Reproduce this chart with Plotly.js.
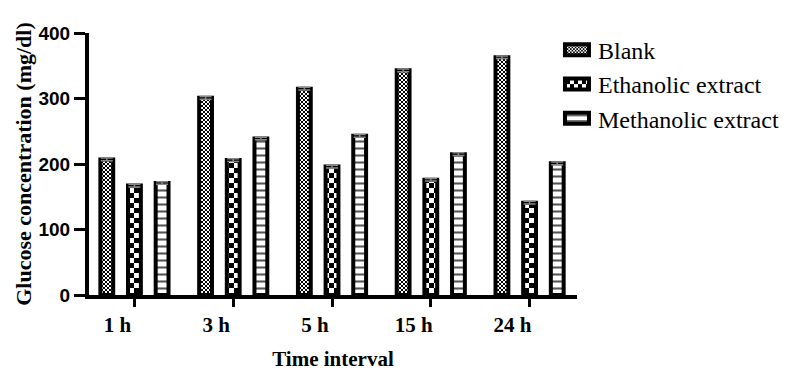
<!DOCTYPE html>
<html>
<head>
<meta charset="utf-8">
<script src="https://cdn.plot.ly/plotly-3.0.1.min.js"></script>
<style>html,body{margin:0;padding:0;background:#fff;}#chart{width:796px;height:374px;}</style>
</head>
<body>
<div id="chart"></div>
<script>
const categories = ["1 h", "3 h", "5 h", "15 h", "24 h"];
const blank = [207, 301, 315, 343, 363];
const ethanolic = [167, 206, 196, 176, 141];
const methanolic = [171, 239, 243, 215, 201];
const blankErr = [2, 2, 2, 2, 2];
const ethanolicErr = [2, 2, 2, 2, 2];
const methanolicErr = [2, 2, 2, 2, 2];
const yTicks = [0, 100, 200, 300, 400];

function mk(name, y, err, pattern) {
  return {
    type: 'bar', name: name, x: categories, y: y,
    error_y: {type: 'data', array: err, visible: true, color: '#888', thickness: 1.5, width: 6},
    marker: {color: '#fff', line: {color: '#000', width: 4}, pattern: pattern}
  };
}
const data = [
  mk('Blank', blank, blankErr, {shape: 'x', size: 3, solidity: 0.5, fgcolor: '#000', bgcolor: '#fff'}),
  mk('Ethanolic extract', ethanolic, ethanolicErr, {shape: '.', size: 9, solidity: 0.5, fgcolor: '#000', bgcolor: '#fff'}),
  mk('Methanolic extract', methanolic, methanolicErr, {shape: '-', size: 7, solidity: 0.3, fgcolor: '#555', bgcolor: '#fff'})
];
const layout = {
  width: 796, height: 374,
  margin: {l: 89, r: 213, t: 33, b: 79},
  paper_bgcolor: '#fff', plot_bgcolor: '#fff',
  barmode: 'group', bargap: 0.16, bargroupgap: 0.536,
  showlegend: true,
  legend: {x: 0.961, y: 1.02, xanchor: 'left', yanchor: 'top', tracegroupgap: 0, font: {family: 'Liberation Serif', size: 24, color: '#000'}, bgcolor: 'rgba(0,0,0,0)'},
  xaxis: {
    type: 'category', range: [-0.46, 4.48],
    showline: true, linecolor: '#000', linewidth: 4,
    ticks: 'outside', ticklen: 8, tickwidth: 3, tickcolor: '#000',
    ticklabelshift: -17,
    tickfont: {family: 'Liberation Serif', size: 21, color: '#000', weight: 'bold'},
    showgrid: false, zeroline: false,
    title: {text: '<b>Time interval</b>', standoff: 16, font: {family: 'Liberation Serif', size: 21, color: '#000'}}
  },
  yaxis: {
    range: [0, 400], tickvals: yTicks, ticktext: yTicks.map(String),
    showline: true, linecolor: '#000', linewidth: 4,
    ticks: 'outside', ticklen: 11, tickwidth: 3, tickcolor: '#000',
    tickfont: {family: 'Liberation Sans', size: 19, color: '#000', weight: 'bold'},
    showgrid: false, zeroline: false,
    title: {text: '<b>Glucose concentration (mg/dl)</b>', font: {family: 'Liberation Serif', size: 22, color: '#000'}}
  }
};

const SVGNS = 'http://www.w3.org/2000/svg';
function checker(pat, cell) {
  while (pat.firstChild) pat.removeChild(pat.firstChild);
  pat.setAttribute('width', 2 * cell);
  pat.setAttribute('height', 2 * cell);
  const rects = [[0, 0, 2 * cell, '#fff'], [0, 0, cell, '#000'], [cell, cell, cell, '#000']];
  rects.forEach(function (r) {
    const e = document.createElementNS(SVGNS, 'rect');
    e.setAttribute('x', r[0]); e.setAttribute('y', r[1]);
    e.setAttribute('width', r[2]); e.setAttribute('height', r[2]);
    e.setAttribute('fill', r[3]);
    pat.appendChild(e);
  });
}
function patternOf(el) {
  if (!el) return null;
  const f = el.getAttribute('style') || '';
  const m = (f.match(/url\(["']?#([^"')]+)/) || (el.getAttribute('fill') || '').match(/url\(["']?#([^"')]+)/));
  return m ? document.getElementById(m[1]) : null;
}
const gd = document.getElementById('chart');
Plotly.newPlot(gd, data, layout, {displayModeBar: false, staticPlot: true}).then(function () {
  const cells = [2, 5];
  const traces = gd.querySelectorAll('.barlayer .trace');
  const legs = gd.querySelectorAll('.legend .traces');
  [0, 1].forEach(function (i) {
    const seen = new Set();
    const els = [];
    if (traces[i]) traces[i].querySelectorAll('path').forEach(function (p) { els.push(p); });
    if (legs[i]) legs[i].querySelectorAll('.legendpoints path').forEach(function (p) { els.push(p); });
    els.forEach(function (p) {
      const pat = patternOf(p);
      if (pat && !seen.has(pat)) { seen.add(pat); checker(pat, cells[i]); }
    });
  });
  legs.forEach(function (lg) {
    lg.querySelectorAll('.legendpoints path').forEach(function (p) {
      p.setAttribute('d', 'M11,5.5H-13V-5.5H11Z');
    });
  });
});
</script>
</body>
</html>
